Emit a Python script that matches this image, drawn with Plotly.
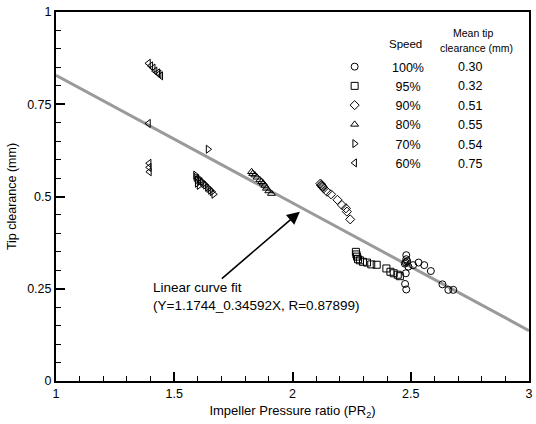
import plotly.graph_objects as go

# ---------------- data ----------------
speeds = ["100%", "95%", "90%", "80%", "70%", "60%"]
mean_clearance = ["0.30", "0.32", "0.51", "0.55", "0.54", "0.75"]
symbols = ["circle-open", "square-open", "diamond-open", "triangle-up-open",
           "triangle-right-open", "triangle-left-open"]

x100 = [2.481, 2.481, 2.479, 2.475, 2.485, 2.490, 2.510, 2.533, 2.557, 2.585,
        2.479, 2.476, 2.481, 2.634, 2.659, 2.680]
y100 = [0.341, 0.330, 0.321, 0.318, 0.325, 0.310, 0.314, 0.321, 0.314, 0.298,
        0.292, 0.263, 0.248, 0.262, 0.247, 0.247]

x95 = [2.268, 2.270, 2.273, 2.277, 2.285, 2.298, 2.315, 2.333, 2.356, 2.397,
       2.414, 2.428, 2.445, 2.454]
y95 = [0.350, 0.343, 0.337, 0.330, 0.327, 0.323, 0.321, 0.316, 0.315, 0.305,
       0.296, 0.292, 0.288, 0.284]

x90 = [2.118, 2.121, 2.123, 2.126, 2.128, 2.132, 2.146, 2.163, 2.190, 2.209,
       2.226, 2.230, 2.244]
y90 = [0.535, 0.531, 0.530, 0.527, 0.525, 0.522, 0.513, 0.506, 0.491, 0.477,
       0.468, 0.459, 0.438]

x80 = [1.827, 1.832, 1.841, 1.850, 1.862, 1.870, 1.876, 1.883, 1.890, 1.900, 1.911]
y80 = [0.567, 0.562, 0.558, 0.552, 0.545, 0.540, 0.536, 0.530, 0.522, 0.515, 0.508]

x70 = [1.590, 1.592, 1.597, 1.604, 1.610, 1.618, 1.625, 1.632, 1.640, 1.646,
       1.653, 1.660, 1.667, 1.597, 1.605, 1.643]
y70 = [0.558, 0.552, 0.545, 0.549, 0.542, 0.540, 0.535, 0.531, 0.525, 0.522,
       0.517, 0.513, 0.506, 0.536, 0.530, 0.628]

x60 = [1.391, 1.401, 1.411, 1.419, 1.430, 1.436, 1.443, 1.391, 1.394, 1.394, 1.395]
y60 = [0.861, 0.854, 0.848, 0.840, 0.835, 0.832, 0.827, 0.698, 0.590, 0.579, 0.567]

fit_a = 1.1744
fit_b = -0.34592
fit_x = [1.0, 3.0]
fit_label = "Linear curve fit<br>(Y=1.1744_0.34592X, R=0.87899)"
arrow_head = (2.031, 0.459)
arrow_tail = (1.695, 0.274)
label_pos = (1.40, 0.278)

xs = [x100, x95, x90, x80, x70, x60]
ys = [y100, y95, y90, y80, y70, y60]

FONT = "Liberation Sans, Arial, sans-serif"

fig = go.Figure()

# fit line
fig.add_trace(go.Scatter(
    x=fit_x, y=[fit_a + fit_b * v for v in fit_x], mode="lines",
    line=dict(color="#9a9a9a", width=3), showlegend=False, hoverinfo="skip"))

pads = [5, 6, 6, 6, 6, 6]
for name, sym, xx, yy, p in zip(speeds, symbols, xs, ys, pads):
    fig.add_trace(go.Scatter(
        x=xx, y=yy, mode="markers", name="\u00a0" * p + name,
        marker=dict(symbol=sym, size=7, color="black", line=dict(color="black", width=1))))


def pann(px, py, text, size):
    return dict(xref="paper", yref="paper", x=(px - 56) / 477, y=(381 - py) / 369,
                xanchor="center", yanchor="middle", text=text, showarrow=False,
                font=dict(size=size, family=FONT, color="black"))


ann = [pann(408, 44, "Speed", 11.5),
       pann(477, 33, "Mean tip", 10.5),
       pann(480, 48, "clearance (mm)", 10.5)]
for i, v in enumerate(mean_clearance):
    ann.append(pann(474, 67 + i * 19.4, v, 12.5))
# arrow
ann.append(dict(x=arrow_head[0], y=arrow_head[1], ax=arrow_tail[0], ay=arrow_tail[1],
                xref="x", yref="y", axref="x", ayref="y", text="", showarrow=True,
                arrowhead=2, arrowsize=1.6, arrowwidth=1.6, arrowcolor="black"))
ann.append(dict(x=label_pos[0], y=label_pos[1], xref="x", yref="y", text=fit_label,
                showarrow=False, xanchor="left", yanchor="top", align="left",
                font=dict(size=13.5, family=FONT, color="black")))

fig.update_layout(
    width=536, height=424,
    margin=dict(l=56, r=3, t=12, b=43),
    paper_bgcolor="white", plot_bgcolor="white",
    font=dict(family=FONT, size=12.5, color="black"),
    annotations=ann,
    legend=dict(x=(337 - 56) / 477, y=(381 - 52) / 369, xanchor="left", yanchor="top",
                bgcolor="rgba(0,0,0,0)", font=dict(size=12.5, family=FONT),
                tracegroupgap=0, itemclick=False),
    xaxis=dict(range=[1, 3], showgrid=False, zeroline=False, showline=True,
               linecolor="black", linewidth=2, mirror=True,
               tickvals=[1, 1.5, 2, 2.5, 3], ticktext=["1", "1.5", "2", "2.5", "3"],
               ticks="inside", ticklen=9, tickwidth=2, tickcolor="black",
               minor=dict(dtick=0.1, ticks="inside", ticklen=5, tickwidth=1, tickcolor="black"),
               title=dict(text="Impeller Pressure ratio (PR<sub>2</sub>)", standoff=6,
                          font=dict(size=13, family=FONT)),
               tickfont=dict(size=12.5, family=FONT)),
    yaxis=dict(range=[0, 1], showgrid=False, zeroline=False, showline=True,
               linecolor="black", linewidth=2, mirror=True,
               tickvals=[0, 0.25, 0.5, 0.75, 1], ticktext=["0", "0.25", "0.5", "0.75", "1"],
               ticks="inside", ticklen=9, tickwidth=2, tickcolor="black",
               minor=dict(dtick=0.05, ticks="inside", ticklen=5, tickwidth=1, tickcolor="black"),
               title=dict(text="Tip clearance (mm)", standoff=8,
                          font=dict(size=12.5, family=FONT)),
               tickfont=dict(size=12.5, family=FONT)),
)

fig.write_html("out.html")
